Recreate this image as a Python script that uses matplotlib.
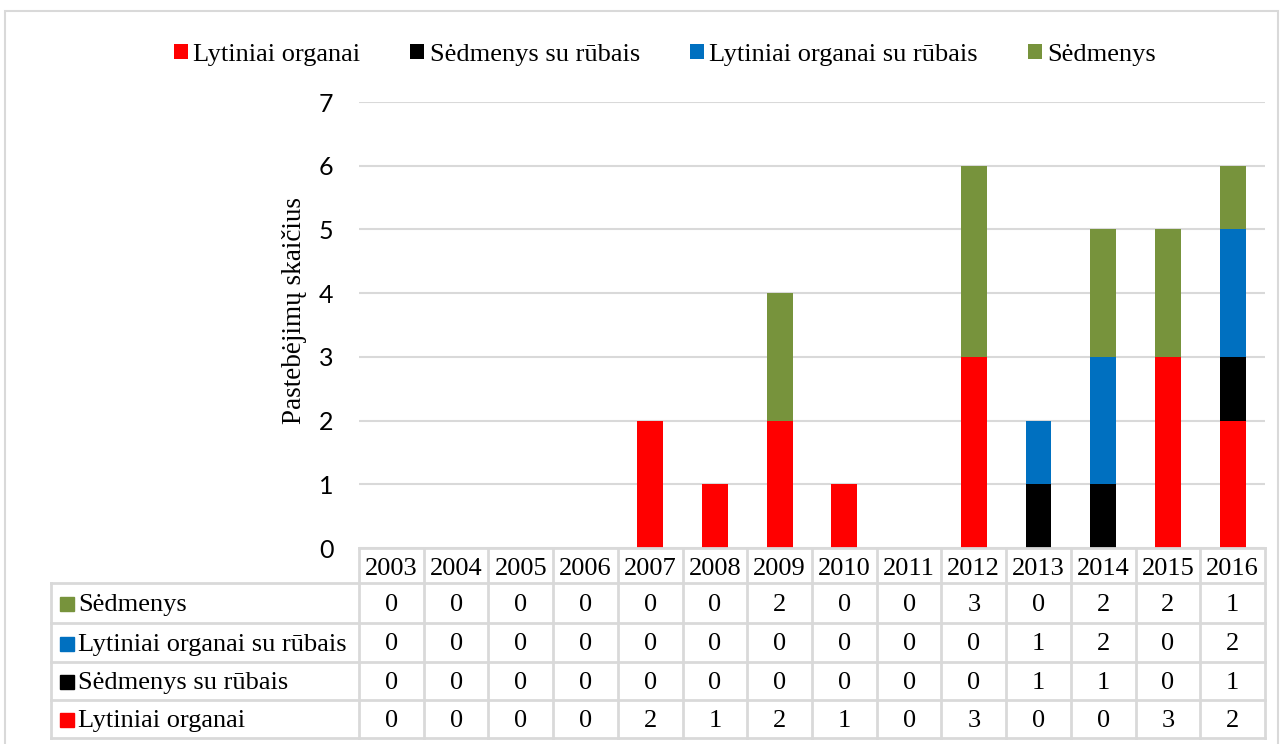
import matplotlib.pyplot as plt
from matplotlib.patches import Rectangle
import numpy as np

plt.rcParams['font.family'] = ['Liberation Serif', 'DejaVu Serif']

years = [2003, 2004, 2005, 2006, 2007, 2008, 2009, 2010, 2011, 2012, 2013, 2014, 2015, 2016]
lytiniai = [0, 0, 0, 0, 2, 1, 2, 1, 0, 3, 0, 0, 3, 2]
sedm_rub = [0, 0, 0, 0, 0, 0, 0, 0, 0, 0, 1, 1, 0, 1]
lyt_rub = [0, 0, 0, 0, 0, 0, 0, 0, 0, 0, 1, 2, 0, 2]
sedmenys = [0, 0, 0, 0, 0, 0, 2, 0, 0, 3, 0, 2, 2, 1]

series = [
    ('Lytiniai organai', lytiniai, '#FF0000'),
    ('Sėdmenys su rūbais', sedm_rub, '#000000'),
    ('Lytiniai organai su rūbais', lyt_rub, '#0070C0'),
    ('Sėdmenys', sedmenys, '#77933C'),
]

W, H = 1284, 744
GRID = '#D9D9D9'
FS = 19

fig = plt.figure(figsize=(W / 100, H / 100), dpi=100)
fig.patches.append(Rectangle((5 / W, -0.01), 1273 / W, 1 - 11 / H + 0.01,
                             transform=fig.transFigure, fill=False,
                             edgecolor=GRID, linewidth=1.5))

# plot area (pixel layout)
px_l, px_r, px_top, px_bot = 359, 1265, 102, 548
ax = fig.add_axes([px_l / W, 1 - px_bot / H, (px_r - px_l) / W, (px_bot - px_top) / H])
x = np.arange(len(years))
bottom = np.zeros(len(years))
handles = []
for name, vals, col in series:
    vals = np.array(vals)
    b = ax.bar(x, vals, 0.4, bottom=bottom, color=col, label=name, zorder=3)
    bottom += vals
    handles.append(b)

ax.set_xlim(-0.5, len(years) - 0.5)
ax.set_ylim(0, 7)
ax.set_yticks(range(8))
ax.set_yticklabels([str(v) for v in range(8)], family='Lato', fontsize=18)
ax.tick_params(axis='y', length=0, pad=18.5)
ax.set_xticks([])
ax.yaxis.grid(True, color=GRID, linewidth=1.5)
ax.set_axisbelow(True)
for s in ax.spines.values():
    s.set_visible(False)
ax.set_ylabel('Pastebėjimų skaičius', fontsize=19.5)
ax.yaxis.set_label_coords((307 - px_l) / (px_r - px_l), (px_bot - 311) / (px_bot - px_top))

# data table
tab_l, tab_b = 51, 738
colw = (px_r - px_l) / len(years)
lw = (px_l - tab_l) / colw
tab = fig.add_axes([tab_l / W, 1 - tab_b / H, (px_r - tab_l) / W, (tab_b - px_bot) / H])
tab.set_xlim(-0.5 - lw, len(years) - 0.5)
tab.set_ylim(tab_b - px_bot, 0)
tab.axis('off')

row_edges = [0, 35, 75, 114, 152, 190]
lk = dict(color=GRID, linewidth=2, clip_on=False)
xl = -0.5 - lw
xr = len(years) - 0.5
tab.plot([-0.5, xr], [0, 0], **lk)
for ye in row_edges[1:]:
    tab.plot([xl, xr], [ye, ye], **lk)
for i in range(len(years) + 1):
    tab.plot([i - 0.5, i - 0.5], [0, 190], **lk)
tab.plot([xl, xl], [35, 190], **lk)

for i, yr in enumerate(years):
    tab.text(i, 27, str(yr), ha='center', va='baseline', fontsize=FS)

for r, (name, vals, col) in enumerate(series[::-1]):
    yc = (row_edges[r + 1] + row_edges[r + 2]) / 2
    tab.add_patch(Rectangle((xl + 9 / colw, yc - 6), 14 / colw, 14,
                            color=col, clip_on=False))
    tab.text(xl + 27 / colw, yc + 8, name, ha='left', va='baseline', fontsize=FS)
    for i, v in enumerate(vals):
        tab.text(i, yc + 8, str(v), ha='center', va='baseline', fontsize=FS)

fig.legend(handles=handles, loc='center', bbox_to_anchor=(665 / W, 1 - 55 / H),
           ncol=4, frameon=False, fontsize=FS, handlelength=0.53, handleheight=0.53,
           handletextpad=0.2, columnspacing=1.9, borderpad=0, borderaxespad=0)

fig.savefig('out.png', dpi=100)
